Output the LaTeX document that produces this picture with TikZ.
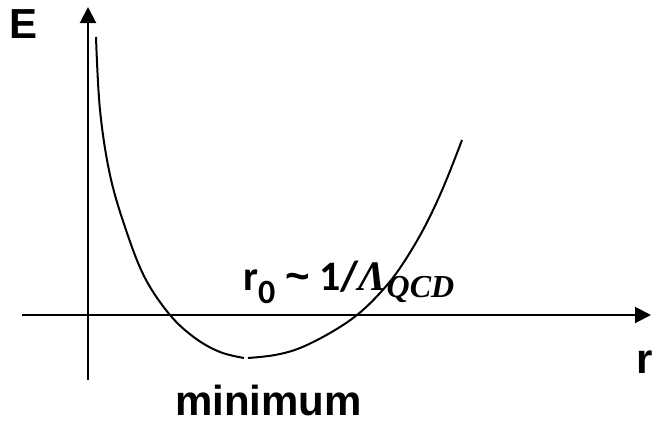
\documentclass[tikz,border=0pt]{standalone}
\usepackage{fontspec}
\setmainfont{Liberation Sans}
\newfontfamily\calfont{Carlito}
\newfontfamily\serfont{Liberation Serif}
\usetikzlibrary{arrows.meta}
\begin{document}
\begin{tikzpicture}[x=1pt,y=-1pt,
  axis/.style={line width=2pt,-{Triangle[length=16pt,width=16pt]}},
  curve/.style={line width=2pt},
  lbl/.style={inner sep=0pt,anchor=base west,font=\fontsize{42}{46}\selectfont\bfseries}]
\useasboundingbox (0,0) rectangle (652,421);
\coordinate (yb) at (88,380);
\coordinate (yt) at (88,7);
\coordinate (xl) at (22,315);
\coordinate (xr) at (651,315);
\draw[axis] (yb) -- (yt);
\draw[axis] (xl) -- (xr);
\draw[curve] plot[smooth,tension=0.6] coordinates {(96,37) (100,110) (110,175) (126,230) (145,278) (170,315) (195,338) (220,352) (244,358)};
\draw[curve] plot[smooth,tension=0.6] coordinates {(248,358) (275,355) (300,348) (330,333) (357,315) (380,293) (400,268) (423,230) (443,188) (462,140)};
\node[lbl] (E) at (9,38) {E};
\node[lbl] (r) at (636,373) {r};
\node[lbl] (min) at (175,415) {minimum};
\node[lbl] (r0) at (243,290) {\calfont r\textsubscript{\fontsize{34}{36}\selectfont 0} {\rmfamily\string~} 1/{\serfont\itshape Λ}\raisebox{-7pt}{\serfont\itshape\fontsize{32}{34}\selectfont QCD}};
\end{tikzpicture}
\end{document}
